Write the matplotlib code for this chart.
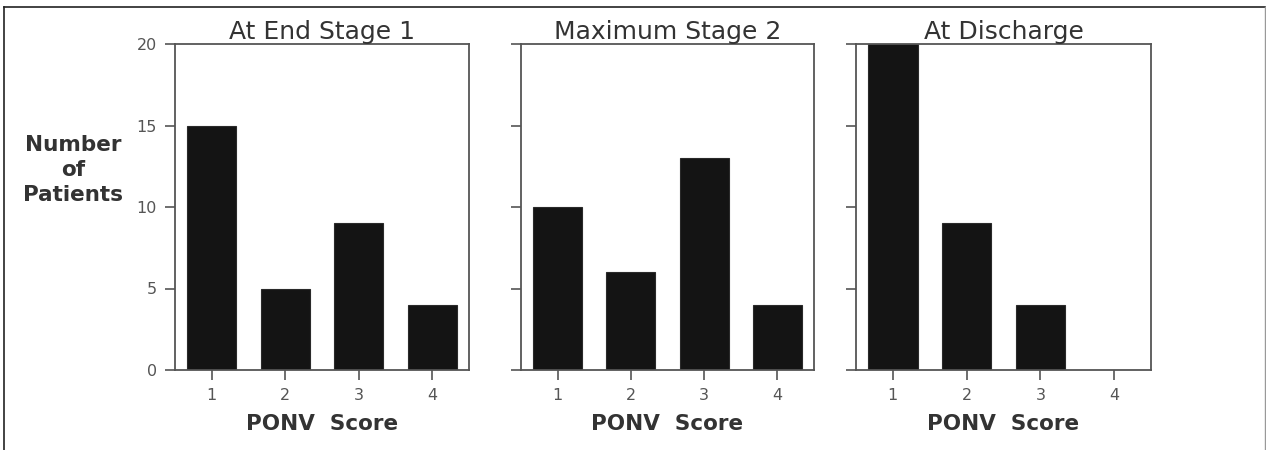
import matplotlib
matplotlib.use('Agg')
import matplotlib.pyplot as plt
from matplotlib.lines import Line2D

plt.rcParams['font.family'] = ['DejaVu Sans']

scores = [1, 2, 3, 4]
titles = ['At End Stage 1', 'Maximum Stage 2', 'At Discharge']
end_stage1 = [15, 5, 9, 4]
max_stage2 = [10, 6, 13, 4]
discharge = [20, 9, 4, 0]
y_ticks = [0, 5, 10, 15, 20]

series = [end_stage1, max_stage2, discharge]
lefts = [175, 521, 856]
widths = [294, 293, 295]

W, H = 1266, 450
fig = plt.figure(figsize=(W / 100, H / 100), dpi=100)

spine_col = '#555555'
text_col = '#333333'

for i, (vals, title) in enumerate(zip(series, titles)):
    ax = fig.add_axes([lefts[i] / W, (H - 370) / H, widths[i] / W, 326 / H])
    ax.bar(scores, vals, width=0.67, color='#141414', edgecolor='#2a2a2a', linewidth=0.8)
    ax.set_xlim(0.5, 4.5)
    ax.set_ylim(0, 20)
    ax.set_xticks(scores)
    ax.set_yticks(y_ticks)
    ax.tick_params(direction='out', length=7, width=1.2, color=spine_col,
                   labelsize=11.5, labelcolor='#555555', pad=6)
    if i > 0:
        ax.set_yticklabels([])
    for sp in ax.spines.values():
        sp.set_color(spine_col)
        sp.set_linewidth(1.3)
    ax.set_title(title, fontsize=18, color=text_col, pad=2)
    ax.set_xlabel('PONV  Score', fontsize=15.5, fontweight='bold', color=text_col, labelpad=8)

fig.text(73 / W, 1 - 170 / H, 'Number\nof\nPatients', ha='center', va='center',
         fontsize=15.5, fontweight='bold', color=text_col, linespacing=1.3)

# outer frame of the figure
fig.add_artist(Line2D([4 / W, 1265 / W], [1 - 7 / H, 1 - 7 / H], color='#222222', lw=1.2))
fig.add_artist(Line2D([4 / W, 4 / W], [0, 1 - 7 / H], color='#222222', lw=1.2))
fig.add_artist(Line2D([1265 / W, 1265 / W], [0, 1 - 7 / H], color='#999999', lw=1.0))

fig.savefig('out.png', dpi=100)
